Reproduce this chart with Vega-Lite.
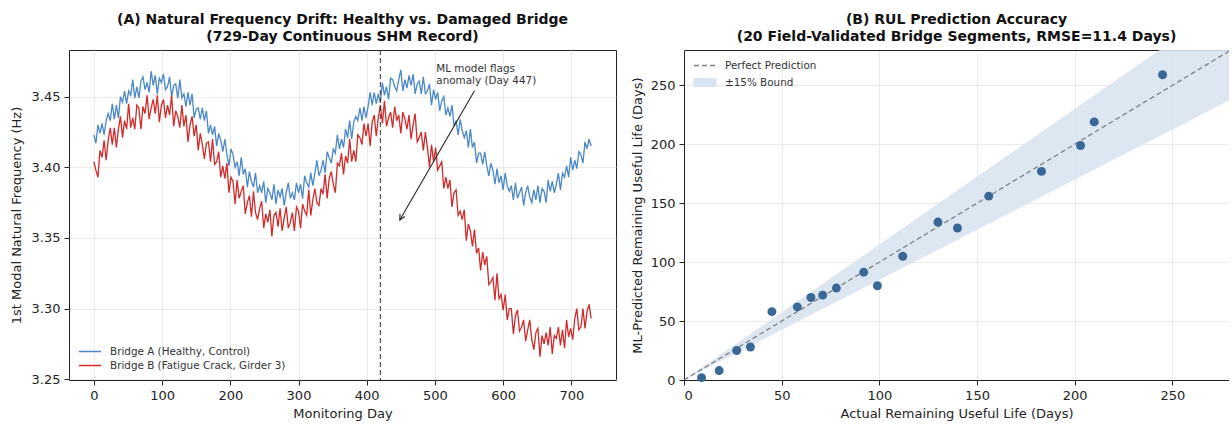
{
"$schema": "https://vega.github.io/schema/vega-lite/v6.json",
"padding": {"left": 9, "top": 12, "right": 0, "bottom": 0},
"spacing": 14,
"resolve": {"scale": {"color": "independent"}, "legend": {"color": "independent"}},
"config": {
 "font": "DejaVu Sans",
 "view": {"stroke": "#222", "strokeWidth": 1},
 "axis": {"labelFont": "DejaVu Sans", "labelFontSize": 13, "labelColor": "#222", "titleFont": "DejaVu Sans", "titleFontSize": 13, "titleFontWeight": "normal", "titleColor": "#222", "tickColor": "#222", "tickSize": 5, "labelPadding": 4, "domain": false, "domainColor": "#222", "gridColor": "#e6e6e6", "gridWidth": 0.8},
 "axisX": {"titlePadding": 5},
 "axisY": {"titlePadding": 8},
 "title": {"font": "DejaVu Sans", "fontSize": 14, "fontWeight": "bold", "color": "#111", "lineHeight": 17, "offset": 6, "anchor": "middle"},
 "legend": {"labelFont": "DejaVu Sans", "labelFontSize": 10.4, "labelColor": "#333", "labelLimit": 400}
},
"datasets": {
 "freq": [
{"d":0,"a":3.423,"b":3.404},{"d":3,"a":3.417,"b":3.398},{"d":6,"a":3.430,"b":3.393},{"d":9,"a":3.424,"b":3.412},{"d":12,"a":3.431,"b":3.407},{"d":15,"a":3.423,"b":3.419},{"d":18,"a":3.433,"b":3.405},{"d":21,"a":3.438,"b":3.419},{"d":24,"a":3.433,"b":3.428},{"d":27,"a":3.445,"b":3.416},
{"d":30,"a":3.434,"b":3.428},{"d":33,"a":3.444,"b":3.414},{"d":36,"a":3.435,"b":3.427},{"d":39,"a":3.450,"b":3.436},{"d":42,"a":3.446,"b":3.421},{"d":45,"a":3.454,"b":3.433},{"d":48,"a":3.445,"b":3.427},{"d":51,"a":3.454,"b":3.445},{"d":54,"a":3.451,"b":3.428},{"d":57,"a":3.462,"b":3.435},
{"d":60,"a":3.449,"b":3.427},{"d":63,"a":3.457,"b":3.444},{"d":66,"a":3.449,"b":3.442},{"d":69,"a":3.461,"b":3.427},{"d":72,"a":3.464,"b":3.443},{"d":75,"a":3.455,"b":3.438},{"d":78,"a":3.460,"b":3.451},{"d":81,"a":3.453,"b":3.434},{"d":84,"a":3.468,"b":3.442},{"d":87,"a":3.458,"b":3.448},
{"d":90,"a":3.465,"b":3.438},{"d":93,"a":3.452,"b":3.451},{"d":96,"a":3.463,"b":3.432},{"d":99,"a":3.460,"b":3.444},{"d":102,"a":3.466,"b":3.448},{"d":105,"a":3.455,"b":3.435},{"d":108,"a":3.457,"b":3.444},{"d":111,"a":3.464,"b":3.437},{"d":114,"a":3.450,"b":3.451},{"d":117,"a":3.458,"b":3.429},
{"d":120,"a":3.459,"b":3.440},{"d":123,"a":3.449,"b":3.436},{"d":126,"a":3.462,"b":3.428},{"d":129,"a":3.449,"b":3.444},{"d":132,"a":3.452,"b":3.429},{"d":135,"a":3.443,"b":3.437},{"d":138,"a":3.453,"b":3.418},{"d":141,"a":3.444,"b":3.430},{"d":144,"a":3.452,"b":3.436},{"d":147,"a":3.435,"b":3.422},
{"d":150,"a":3.441,"b":3.430},{"d":153,"a":3.442,"b":3.412},{"d":156,"a":3.434,"b":3.424},{"d":159,"a":3.442,"b":3.416},{"d":162,"a":3.433,"b":3.406},{"d":165,"a":3.440,"b":3.417},{"d":168,"a":3.424,"b":3.418},{"d":171,"a":3.430,"b":3.404},{"d":174,"a":3.423,"b":3.420},{"d":177,"a":3.429,"b":3.402},
{"d":180,"a":3.415,"b":3.404},{"d":183,"a":3.424,"b":3.411},{"d":186,"a":3.419,"b":3.393},{"d":189,"a":3.411,"b":3.401},{"d":192,"a":3.420,"b":3.392},{"d":195,"a":3.409,"b":3.403},{"d":198,"a":3.401,"b":3.382},{"d":201,"a":3.413,"b":3.393},{"d":204,"a":3.409,"b":3.390},{"d":207,"a":3.400,"b":3.374},
{"d":210,"a":3.404,"b":3.391},{"d":213,"a":3.394,"b":3.378},{"d":216,"a":3.407,"b":3.383},{"d":219,"a":3.395,"b":3.387},{"d":222,"a":3.399,"b":3.367},{"d":225,"a":3.386,"b":3.375},{"d":228,"a":3.397,"b":3.380},{"d":231,"a":3.390,"b":3.365},{"d":234,"a":3.386,"b":3.383},{"d":237,"a":3.396,"b":3.368},
{"d":240,"a":3.382,"b":3.363},{"d":243,"a":3.387,"b":3.371},{"d":246,"a":3.382,"b":3.376},{"d":249,"a":3.390,"b":3.357},{"d":252,"a":3.375,"b":3.367},{"d":255,"a":3.385,"b":3.361},{"d":258,"a":3.382,"b":3.370},{"d":261,"a":3.377,"b":3.351},{"d":264,"a":3.388,"b":3.366},{"d":267,"a":3.374,"b":3.368},
{"d":270,"a":3.384,"b":3.358},{"d":273,"a":3.379,"b":3.371},{"d":276,"a":3.385,"b":3.355},{"d":279,"a":3.373,"b":3.364},{"d":282,"a":3.382,"b":3.372},{"d":285,"a":3.389,"b":3.357},{"d":288,"a":3.378,"b":3.361},{"d":291,"a":3.382,"b":3.368},{"d":294,"a":3.377,"b":3.355},{"d":297,"a":3.389,"b":3.372},
{"d":300,"a":3.382,"b":3.369},{"d":303,"a":3.388,"b":3.357},{"d":306,"a":3.378,"b":3.374},{"d":309,"a":3.394,"b":3.369},{"d":312,"a":3.389,"b":3.366},{"d":315,"a":3.386,"b":3.384},{"d":318,"a":3.396,"b":3.366},{"d":321,"a":3.387,"b":3.377},{"d":324,"a":3.396,"b":3.385},{"d":327,"a":3.405,"b":3.375},
{"d":330,"a":3.394,"b":3.373},{"d":333,"a":3.398,"b":3.385},{"d":336,"a":3.405,"b":3.381},{"d":339,"a":3.396,"b":3.395},{"d":342,"a":3.411,"b":3.378},{"d":345,"a":3.407,"b":3.392},{"d":348,"a":3.403,"b":3.397},{"d":351,"a":3.413,"b":3.388},{"d":354,"a":3.410,"b":3.382},{"d":357,"a":3.423,"b":3.403},
{"d":360,"a":3.413,"b":3.401},{"d":363,"a":3.420,"b":3.410},{"d":366,"a":3.414,"b":3.395},{"d":369,"a":3.427,"b":3.408},{"d":372,"a":3.421,"b":3.403},{"d":375,"a":3.433,"b":3.420},{"d":378,"a":3.420,"b":3.404},{"d":381,"a":3.432,"b":3.412},{"d":384,"a":3.436,"b":3.404},{"d":387,"a":3.433,"b":3.423},
{"d":390,"a":3.442,"b":3.421},{"d":393,"a":3.433,"b":3.416},{"d":396,"a":3.443,"b":3.431},{"d":399,"a":3.435,"b":3.422},{"d":402,"a":3.443,"b":3.431},{"d":405,"a":3.453,"b":3.415},{"d":408,"a":3.444,"b":3.432},{"d":411,"a":3.453,"b":3.437},{"d":414,"a":3.445,"b":3.422},{"d":417,"a":3.452,"b":3.435},
{"d":420,"a":3.446,"b":3.444},{"d":423,"a":3.460,"b":3.431},{"d":426,"a":3.451,"b":3.447},{"d":429,"a":3.457,"b":3.429},{"d":432,"a":3.448,"b":3.435},{"d":435,"a":3.463,"b":3.439},{"d":438,"a":3.462,"b":3.428},{"d":441,"a":3.457,"b":3.443},{"d":444,"a":3.454,"b":3.433},{"d":447,"a":3.462,"b":3.437},
{"d":450,"a":3.469,"b":3.424},{"d":453,"a":3.454,"b":3.439},{"d":456,"a":3.462,"b":3.434},{"d":459,"a":3.456,"b":3.427},{"d":462,"a":3.465,"b":3.437},{"d":465,"a":3.458,"b":3.420},{"d":468,"a":3.466,"b":3.430},{"d":471,"a":3.452,"b":3.438},{"d":474,"a":3.459,"b":3.418},{"d":477,"a":3.461,"b":3.421},
{"d":480,"a":3.452,"b":3.425},{"d":483,"a":3.464,"b":3.412},{"d":486,"a":3.452,"b":3.425},{"d":489,"a":3.454,"b":3.414},{"d":492,"a":3.459,"b":3.400},{"d":495,"a":3.444,"b":3.416},{"d":498,"a":3.455,"b":3.404},{"d":501,"a":3.448,"b":3.414},{"d":504,"a":3.453,"b":3.398},{"d":507,"a":3.440,"b":3.401},
{"d":510,"a":3.447,"b":3.404},{"d":513,"a":3.450,"b":3.385},{"d":516,"a":3.437,"b":3.393},{"d":519,"a":3.442,"b":3.385},{"d":522,"a":3.436,"b":3.391},{"d":525,"a":3.444,"b":3.372},{"d":528,"a":3.429,"b":3.382},{"d":531,"a":3.433,"b":3.384},{"d":534,"a":3.423,"b":3.366},{"d":537,"a":3.434,"b":3.369},
{"d":540,"a":3.426,"b":3.363},{"d":543,"a":3.421,"b":3.370},{"d":546,"a":3.426,"b":3.348},{"d":549,"a":3.414,"b":3.360},{"d":552,"a":3.427,"b":3.355},{"d":555,"a":3.414,"b":3.344},{"d":558,"a":3.418,"b":3.356},{"d":561,"a":3.403,"b":3.339},{"d":564,"a":3.410,"b":3.343},{"d":567,"a":3.410,"b":3.327},
{"d":570,"a":3.402,"b":3.340},{"d":573,"a":3.411,"b":3.331},{"d":576,"a":3.401,"b":3.337},{"d":579,"a":3.394,"b":3.317},{"d":582,"a":3.403,"b":3.319},{"d":585,"a":3.398,"b":3.322},{"d":588,"a":3.388,"b":3.306},{"d":591,"a":3.399,"b":3.325},{"d":594,"a":3.389,"b":3.307},{"d":597,"a":3.394,"b":3.310},
{"d":600,"a":3.384,"b":3.299},{"d":603,"a":3.396,"b":3.310},{"d":606,"a":3.387,"b":3.292},{"d":609,"a":3.383,"b":3.300},{"d":612,"a":3.387,"b":3.300},{"d":615,"a":3.377,"b":3.282},{"d":618,"a":3.389,"b":3.295},{"d":621,"a":3.378,"b":3.299},{"d":624,"a":3.382,"b":3.284},{"d":627,"a":3.386,"b":3.287},
{"d":630,"a":3.373,"b":3.292},{"d":633,"a":3.382,"b":3.277},{"d":636,"a":3.387,"b":3.285},{"d":639,"a":3.379,"b":3.292},{"d":642,"a":3.375,"b":3.278},{"d":645,"a":3.384,"b":3.271},{"d":648,"a":3.377,"b":3.283},{"d":651,"a":3.387,"b":3.286},{"d":654,"a":3.375,"b":3.266},{"d":657,"a":3.385,"b":3.281},
{"d":660,"a":3.383,"b":3.275},{"d":663,"a":3.375,"b":3.283},{"d":666,"a":3.391,"b":3.274},{"d":669,"a":3.383,"b":3.287},{"d":672,"a":3.390,"b":3.268},{"d":675,"a":3.382,"b":3.281},{"d":678,"a":3.388,"b":3.279},{"d":681,"a":3.396,"b":3.287},{"d":684,"a":3.384,"b":3.274},{"d":687,"a":3.396,"b":3.285},
{"d":690,"a":3.393,"b":3.272},{"d":693,"a":3.401,"b":3.292},{"d":696,"a":3.393,"b":3.280},{"d":699,"a":3.407,"b":3.286},{"d":702,"a":3.398,"b":3.278},{"d":705,"a":3.405,"b":3.293},{"d":708,"a":3.399,"b":3.300},{"d":711,"a":3.411,"b":3.285},{"d":714,"a":3.409,"b":3.287},{"d":717,"a":3.403,"b":3.300},
{"d":720,"a":3.418,"b":3.286},{"d":723,"a":3.413,"b":3.298},{"d":726,"a":3.420,"b":3.303},{"d":729,"a":3.415,"b":3.293}
 ],
 "rul": [
{"x":9,"y":2},{"x":18,"y":8},{"x":27,"y":25},{"x":34,"y":28},{"x":45,"y":58},{"x":58,"y":62},{"x":65,"y":70},{"x":71,"y":72},{"x":78,"y":78},{"x":92,"y":91.5},
{"x":99,"y":80},{"x":112,"y":105},{"x":130,"y":134},{"x":140,"y":129},{"x":156,"y":156},{"x":183,"y":177},{"x":203,"y":199},{"x":210,"y":219},{"x":245,"y":259}
 ],
 "diag": [{"x":0,"lo":0,"hi":0,"p":0},{"x":300,"lo":255,"hi":345,"p":300}]
},
"hconcat": [
 {
  "width": 547, "height": 330,
  "title": {"text": ["(A) Natural Frequency Drift: Healthy vs. Damaged Bridge", "(729-Day Continuous SHM Record)"]},
  "layer": [
   {
    "data": {"name": "freq"},
    "transform": [{"fold": ["a", "b"], "as": ["s", "f"]}],
    "mark": {"type": "line", "strokeWidth": 1.3, "clip": true},
    "encoding": {
     "x": {"field": "d", "type": "quantitative", "title": "Monitoring Day", "scale": {"domain": [-36.45, 765.45], "nice": false, "zero": false}, "axis": {"values": [0,100,200,300,400,500,600,700], "grid": true}},
     "y": {"field": "f", "type": "quantitative", "title": "1st Modal Natural Frequency (Hz)", "scale": {"domain": [3.2495, 3.483], "nice": false, "zero": false}, "axis": {"values": [3.25,3.30,3.35,3.40,3.45], "format": ".2f", "grid": true}},
     "color": {"field": "s", "type": "nominal", "scale": {"domain": ["a", "b"], "range": ["#4a87c7", "#d02b2b"]},
      "legend": {"title": null, "orient": "bottom-left", "offset": 9, "padding": 0, "symbolType": "M-1,0H3", "symbolSize": 121, "symbolStrokeWidth": 1.5, "labelOffset": 19, "rowPadding": 2, "labelExpr": "datum.label == 'a' ? 'Bridge A (Healthy, Control)' : 'Bridge B (Fatigue Crack, Girder 3)'"}}
    }
   },
   {
    "data": {"values": [{"d": 420}]},
    "mark": {"type": "rule", "strokeDash": [5, 3], "color": "#333", "strokeWidth": 1},
    "encoding": {"x": {"field": "d", "type": "quantitative", "title": "Monitoring Day"}}
   },
   {
    "data": {"values": [{"d": 502, "f": 3.4672}]},
    "mark": {"type": "text", "text": ["ML model flags", "anomaly (Day 447)"], "align": "left", "baseline": "alphabetic", "fontSize": 10.4, "lineHeight": 12, "color": "#333"},
    "encoding": {"x": {"field": "d", "type": "quantitative", "title": "Monitoring Day"}, "y": {"field": "f", "type": "quantitative", "title": "1st Modal Natural Frequency (Hz)"}}
   },
   {
    "data": {"values": [{"d": 558, "f": 3.4542, "d2": 448.5, "f2": 3.3627}]},
    "mark": {"type": "rule", "color": "#222", "strokeWidth": 1.1},
    "encoding": {"x": {"field": "d", "type": "quantitative", "title": "Monitoring Day"}, "y": {"field": "f", "type": "quantitative", "title": "1st Modal Natural Frequency (Hz)"}, "x2": {"field": "d2"}, "y2": {"field": "f2"}}
   },
   {
    "data": {"values": [{"d": 448.5, "f": 3.3627}]},
    "mark": {"type": "point", "shape": "M-0.55,1.1L0,0L0.55,1.1", "angle": 209, "size": 100, "filled": false, "color": "#222", "strokeWidth": 1.1, "opacity": 1},
    "encoding": {"x": {"field": "d", "type": "quantitative", "title": "Monitoring Day"}, "y": {"field": "f", "type": "quantitative", "title": "1st Modal Natural Frequency (Hz)"}}
   }
  ]
 },
 {
  "width": 545, "height": 330,
  "view": {"stroke": null},
  "title": {"text": ["(B) RUL Prediction Accuracy", "(20 Field-Validated Bridge Segments, RMSE=11.4 Days)"]},
  "resolve": {"axis": {"x": "independent"}},
  "layer": [
   {
    "data": {"name": "diag"},
    "mark": {"type": "area", "clip": true, "opacity": 0.9},
    "encoding": {
     "x": {"field": "x", "type": "quantitative", "title": "Actual Remaining Useful Life (Days)", "scale": {"domain": [0, 279], "nice": false}, "axis": {"values": [0,50,100,150,200,250], "grid": true, "domain": true}},
     "y": {"field": "lo", "type": "quantitative", "title": "ML-Predicted Remaining Useful Life (Days)", "scale": {"domain": [0, 280], "nice": false}, "axis": {"values": [0,50,100,150,200,250], "grid": true, "domain": true, "titlePadding": 6}},
     "y2": {"field": "hi"},
     "color": {"datum": "±15% Bound", "type": "nominal", "scale": {"domain": ["Perfect Prediction", "±15% Bound"], "range": ["#808080", "#d8e4f1"]},
      "legend": {"title": null, "orient": "top-left", "offset": 9, "padding": 0, "symbolType": "M-1,-0.7H3V0.7H-1Z", "symbolSize": 121, "labelOffset": 19, "rowPadding": 5,
       "encode": {"symbols": {"update": {
        "shape": {"signal": "datum.label === 'Perfect Prediction' ? 'M-1,0H3' : 'M-1,-0.7H3V0.7H-1Z'"},
        "fill": {"signal": "datum.label === 'Perfect Prediction' ? 'transparent' : '#d8e4f1'"},
        "stroke": {"signal": "datum.label === 'Perfect Prediction' ? '#808080' : 'transparent'"},
        "strokeDash": {"signal": "datum.label === 'Perfect Prediction' ? [5,3] : [1,0]"},
        "strokeWidth": {"value": 1.3},
        "opacity": {"value": 1}}}}}}
    }
   },
   {
    "data": {"name": "diag"},
    "mark": {"type": "line", "clip": true, "strokeDash": [5, 3], "strokeWidth": 1.3},
    "encoding": {
     "x": {"field": "x", "type": "quantitative", "title": "Actual Remaining Useful Life (Days)", "axis": null},
     "y": {"field": "p", "type": "quantitative", "title": "ML-Predicted Remaining Useful Life (Days)"},
     "color": {"datum": "Perfect Prediction", "type": "nominal",
      "legend": {"title": null, "orient": "top-left", "offset": 9, "padding": 0, "symbolType": "M-1,-0.7H3V0.7H-1Z", "symbolSize": 121, "labelOffset": 19, "rowPadding": 5,
       "encode": {"symbols": {"update": {
        "shape": {"signal": "datum.label === 'Perfect Prediction' ? 'M-1,0H3' : 'M-1,-0.7H3V0.7H-1Z'"},
        "fill": {"signal": "datum.label === 'Perfect Prediction' ? 'transparent' : '#d8e4f1'"},
        "stroke": {"signal": "datum.label === 'Perfect Prediction' ? '#808080' : 'transparent'"},
        "strokeDash": {"signal": "datum.label === 'Perfect Prediction' ? [5,3] : [1,0]"},
        "strokeWidth": {"value": 1.3},
        "opacity": {"value": 1}}}}}}
    }
   },
   {
    "data": {"name": "rul"},
    "mark": {"type": "circle", "size": 80, "color": "#3a6896", "opacity": 1},
    "encoding": {
     "x": {"field": "x", "type": "quantitative", "title": "Actual Remaining Useful Life (Days)", "axis": {"orient": "top", "labels": false, "ticks": false, "grid": false, "domain": true, "title": null}},
     "y": {"field": "y", "type": "quantitative", "title": "ML-Predicted Remaining Useful Life (Days)"}
    }
   }
  ]
 }
]
}
